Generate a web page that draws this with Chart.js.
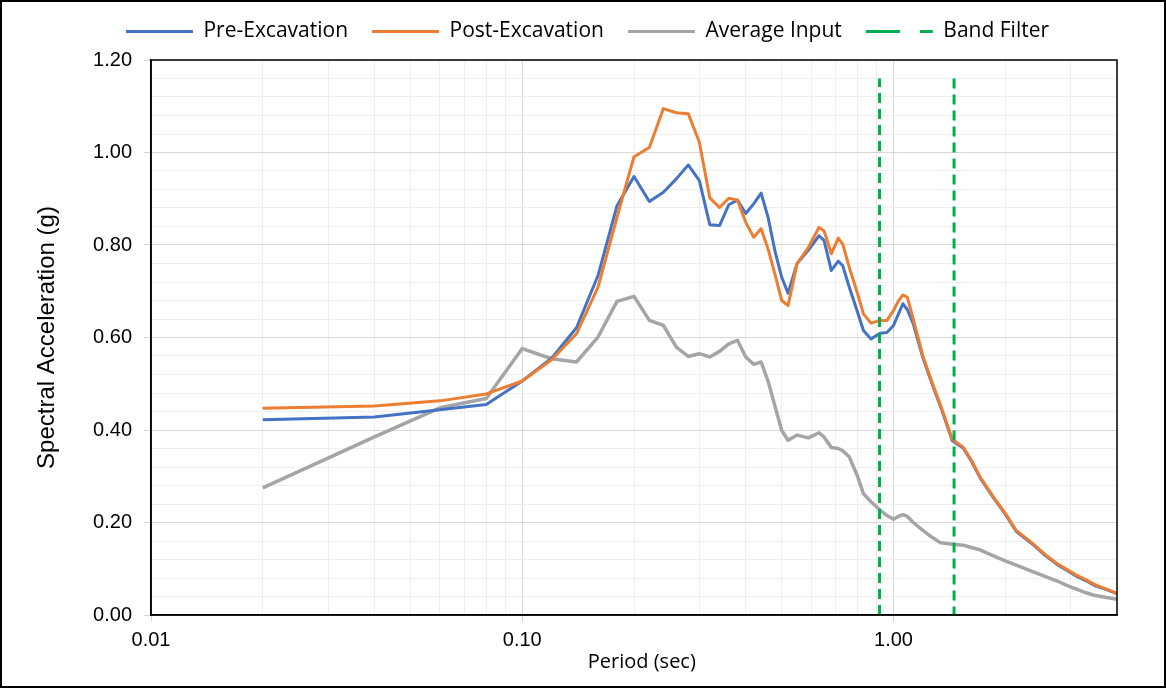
<!DOCTYPE html>
<html>
<head>
<meta charset="utf-8">
<script src="https://cdn.jsdelivr.net/npm/chart.js@4"></script>
<style>
  body { margin: 0; background: #fff; }
  #wrap { width: 1166px; height: 688px; }
</style>
</head>
<body>
<div id="wrap"><canvas id="spectraChart" width="1166" height="688"></canvas></div>
<script>
// periods (sec) shared by the three spectra
const periods = [0.02, 0.04, 0.06, 0.08, 0.10, 0.12, 0.14, 0.16, 0.18, 0.20,
  0.22, 0.24, 0.26, 0.28, 0.30, 0.32, 0.34, 0.36, 0.38, 0.40,
  0.42, 0.44, 0.46, 0.48, 0.50, 0.52, 0.55, 0.59, 0.63, 0.65,
  0.68, 0.71, 0.73, 0.76, 0.80, 0.83, 0.87, 0.92, 0.96, 1.00,
  1.03, 1.06, 1.09, 1.13, 1.20, 1.27, 1.34, 1.44, 1.54, 1.62,
  1.71, 1.86, 2.00, 2.14, 2.37, 2.55, 2.75, 2.95, 3.11, 3.30,
  3.50, 3.75, 4.00];

const preExcavation = [0.422, 0.428, 0.444, 0.455, 0.506, 0.555, 0.621, 0.734, 0.885, 0.948,
  0.894, 0.914, 0.943, 0.973, 0.939, 0.844, 0.842, 0.887, 0.897, 0.868,
  0.889, 0.912, 0.858, 0.785, 0.730, 0.696, 0.760, 0.789, 0.820, 0.810,
  0.745, 0.765, 0.755, 0.709, 0.655, 0.615, 0.597, 0.609, 0.611, 0.626,
  0.650, 0.673, 0.660, 0.630, 0.556, 0.500, 0.450, 0.377, 0.361, 0.333,
  0.297, 0.253, 0.218, 0.181, 0.153, 0.130, 0.110, 0.095, 0.084, 0.074,
  0.063, 0.055, 0.046];

const postExcavation = [0.447, 0.452, 0.463, 0.478, 0.506, 0.552, 0.608, 0.709, 0.860, 0.991,
  1.011, 1.095, 1.086, 1.084, 1.022, 0.902, 0.881, 0.901, 0.897, 0.849,
  0.817, 0.835, 0.790, 0.735, 0.680, 0.669, 0.760, 0.795, 0.838, 0.831,
  0.781, 0.815, 0.802, 0.752, 0.695, 0.651, 0.631, 0.637, 0.637, 0.658,
  0.678, 0.692, 0.687, 0.640, 0.560, 0.503, 0.453, 0.380, 0.363, 0.335,
  0.299, 0.255, 0.220, 0.183, 0.155, 0.132, 0.112, 0.097, 0.086, 0.076,
  0.065, 0.056, 0.047];

const averageInput = [0.275, 0.385, 0.448, 0.468, 0.576, 0.554, 0.547, 0.601, 0.678, 0.689,
  0.637, 0.626, 0.579, 0.559, 0.565, 0.558, 0.570, 0.586, 0.594, 0.558,
  0.542, 0.547, 0.504, 0.450, 0.399, 0.378, 0.389, 0.383, 0.394, 0.385,
  0.362, 0.360, 0.355, 0.342, 0.300, 0.262, 0.245, 0.227, 0.215, 0.207,
  0.213, 0.217, 0.213, 0.200, 0.183, 0.168, 0.156, 0.153, 0.151, 0.146,
  0.141, 0.128, 0.117, 0.108, 0.094, 0.084, 0.074, 0.063, 0.056, 0.048,
  0.042, 0.038, 0.034];

// band filter limits (sec) and height of the dashed markers (g)
const bandFilterPeriods = [0.917, 1.456];
const bandFilterTop = 1.16;

const xTickValues = [0.01, 0.02, 0.03, 0.04, 0.05, 0.06, 0.07, 0.08, 0.09,
  0.1, 0.2, 0.3, 0.4, 0.5, 0.6, 0.7, 0.8, 0.9, 1, 2, 3, 4];
const yTickValues = [];
for (let i = 0; i <= 30; i++) yTickValues.push(+(i * 0.04).toFixed(2));

const toPoints = (ys) => periods.map((p, i) => ({ x: p, y: ys[i] }));
const bandPoints = [
  { x: bandFilterPeriods[0], y: 0 }, { x: bandFilterPeriods[0], y: bandFilterTop },
  { x: bandFilterPeriods[0], y: null },
  { x: bandFilterPeriods[1], y: bandFilterTop }, { x: bandFilterPeriods[1], y: 0 }
];

const isDecade = v => Math.abs(Math.log10(v) - Math.round(Math.log10(v))) < 1e-6;
const isMajorY = v => Math.abs(v * 5 - Math.round(v * 5)) < 1e-6;

const tickFont = { family: 'Liberation Sans, Arial, sans-serif', size: 20 };
const calFont = { family: 'Open Sans, sans-serif', size: 20 };

const frame = {
  id: 'frame',
  beforeInit(chart) {
    // leave a bit more room under the legend
    const fit = chart.legend.fit;
    chart.legend.fit = function () { fit.call(this); this.height += 5; };
  },
  afterLayout(chart) {
    // legend sits a little right of centre and close to the top in the original
    const lg = chart.legend;
    lg.left += 29; lg.right += 29;
    lg.top -= 3; lg.bottom -= 3;
  },
  beforeDraw(chart) {
    const c = chart.ctx;
    c.save();
    c.fillStyle = '#fff';
    c.fillRect(0, 0, chart.width, chart.height);
    c.restore();
  },
  afterDraw(chart) {
    const c = chart.ctx, a = chart.chartArea;
    c.save();
    c.strokeStyle = '#000';
    c.lineWidth = 1.5;
    c.strokeRect(a.left, a.top, a.right - a.left, a.bottom - a.top);
    c.lineWidth = 2;
    c.strokeRect(1, 1, chart.width - 2, chart.height - 2);
    c.restore();
  }
};

new Chart(document.getElementById('spectraChart'), {
  type: 'line',
  data: {
    datasets: [
      { label: 'Pre-Excavation', data: toPoints(preExcavation), borderColor: '#4472C4', backgroundColor: '#4472C4', borderWidth: 3, order: 2 },
      { label: 'Post-Excavation', data: toPoints(postExcavation), borderColor: '#ED7D31', backgroundColor: '#ED7D31', borderWidth: 3, order: 1 },
      { label: 'Average Input', data: toPoints(averageInput), borderColor: '#A5A5A5', backgroundColor: '#A5A5A5', borderWidth: 3.5, order: 3 },
      { label: 'Band Filter', data: bandPoints, borderColor: '#00B050', backgroundColor: '#00B050', borderWidth: 3, borderDash: [10, 6], spanGaps: false, order: 0 }
    ]
  },
  options: {
    responsive: false,
    animation: false,
    layout: { padding: { left: 0, right: 49, top: 0, bottom: 0 } },
    elements: {
      line: { tension: 0, fill: false, borderJoinStyle: 'round' },
      point: { radius: 0, hoverRadius: 0 }
    },
    plugins: {
      legend: {
        position: 'top',
        labels: {
          usePointStyle: true,
          pointStyle: 'line',
          pointStyleWidth: 67,
          padding: 24,
          color: '#000',
          font: { family: 'Open Sans, sans-serif', size: 21 },
          sort: (a, b) => a.datasetIndex - b.datasetIndex,
          generateLabels: chart => Chart.defaults.plugins.legend.labels.generateLabels(chart).map(item => {
            const ds = chart.data.datasets[item.datasetIndex];
            return Object.assign(item, { lineWidth: 3, lineDash: ds.borderDash ? [34, 20] : [] });
          })
        }
      },
      tooltip: { enabled: false }
    },
    scales: {
      x: {
        type: 'logarithmic',
        min: 0.01,
        max: 4,
        afterBuildTicks: s => { s.ticks = xTickValues.map(v => ({ value: v })); },
        afterFit: s => { s.height = 73; },
        ticks: {
          autoSkip: false, maxRotation: 0, padding: 6, color: '#000', font: tickFont,
          callback: v => isDecade(v) ? v.toFixed(2) : ''
        },
        grid: {
          color: c => (c.tick && isDecade(c.tick.value)) ? '#d6d6d6' : '#efefef',
          tickColor: c => (c.tick && isDecade(c.tick.value)) ? '#d6d6d6' : 'rgba(0,0,0,0)',
          tickLength: 7
        },
        border: { color: '#000', width: 1.5 },
        title: {
          display: true, text: '\u00a0\u00a0\u00a0Period (sec)', color: '#000', font: calFont,
          padding: { top: 0, bottom: 14 }
        }
      },
      y: {
        min: 0,
        max: 1.2,
        afterBuildTicks: s => { s.ticks = yTickValues.map(v => ({ value: v })); },
        afterFit: s => { s.width = 151; },
        ticks: {
          autoSkip: false, padding: 12, color: '#000', font: tickFont,
          callback: v => isMajorY(v) ? v.toFixed(2) : ''
        },
        grid: {
          color: c => (c.tick && isMajorY(c.tick.value)) ? '#d6d6d6' : '#efefef',
          tickColor: c => (c.tick && isMajorY(c.tick.value)) ? '#d6d6d6' : 'rgba(0,0,0,0)',
          tickLength: 7
        },
        border: { color: '#000', width: 1.5 },
        title: {
          display: true, text: 'Spectral Acceleration (g)', color: '#000',
          font: { family: 'Liberation Sans, Arial, sans-serif', size: 24 }, padding: { top: 33, bottom: 0 }
        }
      }
    }
  },
  plugins: [frame]
});
</script>
</body>
</html>
